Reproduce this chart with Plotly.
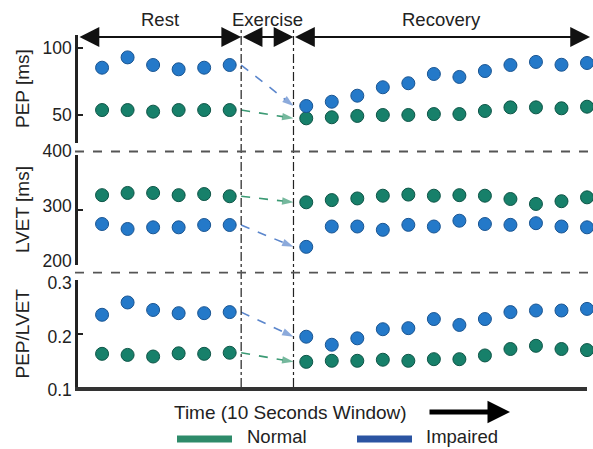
import plotly.graph_objects as go

# ---------------- data ----------------
rest_idx = [0, 1, 2, 3, 4, 5]
recovery_idx = [8, 9, 10, 11, 12, 13, 14, 15, 16, 17, 18, 19]
time_idx = rest_idx + recovery_idx

pep_normal = [53.7, 53.7, 52.5, 53.7, 53.7, 53.7,
              47.5, 48.3, 49.3, 50.0, 50.0, 50.7, 50.7, 53.0, 55.7, 55.7, 55.0, 56.2]
pep_impaired = [85.3, 93.0, 87.3, 84.1, 85.3, 87.3,
                56.7, 59.9, 64.4, 70.7, 73.7, 80.6, 78.4, 82.8, 87.3, 89.6, 87.5, 88.8]
lvet_normal = [327, 331, 331, 327, 329, 325,
               314, 318, 321, 326, 328, 326, 327, 326, 320, 311, 316, 323]
lvet_impaired = [274.5, 265.5, 268.5, 268.5, 272.7, 272.7,
                 233, 270, 270, 264, 273, 270, 280.5, 274.5, 273, 276, 270, 268.5]
ratio_normal = [0.162, 0.160, 0.157, 0.163, 0.162, 0.164,
                0.147, 0.149, 0.149, 0.151, 0.149, 0.152, 0.152, 0.159, 0.171, 0.177, 0.171, 0.169]
ratio_impaired = [0.235, 0.258, 0.244, 0.238, 0.238, 0.240,
                  0.194, 0.179, 0.191, 0.208, 0.210, 0.227, 0.216, 0.227, 0.240, 0.243, 0.243, 0.246]

phase_names = ["Rest", "Exercise", "Recovery"]
phase_edges = [-0.943, 5.45, 7.5, 19.12]

panel_titles = ["PEP [ms]", "LVET [ms]", "PEP/LVET"]
panel_ranges = [[29.1, 109.7], [200, 400], [0.1, 0.3]]
panel_ticks = [[50, 100], [200, 300, 400], [0.1, 0.2, 0.3]]
panel_ticktext = [["50", "100"], ["200", "300", "400"], ["0.1", "0.2", "0.3"]]

legend_names = ["Normal", "Impaired"]
x_label = "Time (10 Seconds Window)"

# ---------------- style ----------------
W, H = 593, 449
FONT = "Liberation Sans, Arial, Helvetica, sans-serif"
TXT = "#222222"
GREEN, GREEN_EDGE = "#17806a", "#0e5547"
BLUE, BLUE_EDGE = "#2479c9", "#1a5592"
GREEN_ARROW, BLUE_ARROW = "#3b9a74", "#5b86cc"
GREEN_LEG, BLUE_LEG = "#2e8b6a", "#2b54a2"

X_DOM = [78 / W, 587 / W]
X_RANGE = [-0.943, 19.0]
def px_y(p):
    return 1 - p / H
Y_DOMS = [[px_y(143), px_y(35)], [px_y(265), px_y(155)], [px_y(387), px_y(280)]]
TICK_SHIFT = [0, -4, 3]   # pixel shift of tick labels (negative = up)

def idx_to_paper(i):
    return X_DOM[0] + (i - X_RANGE[0]) / (X_RANGE[1] - X_RANGE[0]) * (X_DOM[1] - X_DOM[0])

fig = go.Figure()

series = [(pep_normal, pep_impaired), (lvet_normal, lvet_impaired), (ratio_normal, ratio_impaired)]
yaxes = ["y", "y2", "y3"]
for k, (norm, imp) in enumerate(series):
    ya = yaxes[k]
    n_rest = len(rest_idx)
    # dashed transition arrows (from last rest value to first recovery value)
    for vals, col in ((imp, BLUE_ARROW), (norm, GREEN_ARROW)):
        fig.add_trace(go.Scatter(
            x=[phase_edges[1], phase_edges[2]], y=[vals[n_rest - 1], vals[n_rest]],
            xaxis="x", yaxis=ya, mode="lines+markers", showlegend=False, hoverinfo="skip",
            line=dict(color=col, width=1.6, dash="dash"),
            marker=dict(symbol=["circle", "arrow"], size=[0, 12], color=col, angleref="previous",
                        line=dict(width=0)),
            cliponaxis=False))
    for vals, col, edge, name in ((norm, GREEN, GREEN_EDGE, legend_names[0]),
                                  (imp, BLUE, BLUE_EDGE, legend_names[1])):
        fig.add_trace(go.Scatter(
            x=time_idx, y=vals, xaxis="x", yaxis=ya, mode="markers", name=name,
            showlegend=False, cliponaxis=False,
            marker=dict(size=13, color=col, line=dict(color=edge, width=1))))

layout = dict(
    width=W, height=H, autosize=False, margin=dict(l=0, r=0, t=0, b=0, pad=0, autoexpand=False),
    paper_bgcolor="white", plot_bgcolor="white", showlegend=False,
    font=dict(family=FONT, size=18, color=TXT),
    xaxis=dict(domain=X_DOM, range=X_RANGE, anchor="y3", showline=True, linecolor="#333333",
               linewidth=3.5, showticklabels=False, ticks="", showgrid=False, zeroline=False,
               automargin=False),
)
for k in range(3):
    key = "yaxis" if k == 0 else f"yaxis{k+1}"
    layout[key] = dict(domain=Y_DOMS[k], range=panel_ranges[k], anchor="x",
                       showline=True, linecolor="#222222", linewidth=2.5,
                       ticks="inside", ticklen=5, tickwidth=2, tickcolor="#222222",
                       tickvals=panel_ticks[k], ticktext=panel_ticktext[k],
                       tickfont=dict(size=17.5, family=FONT, color=TXT),
                       ticklabelshift=TICK_SHIFT[k],
                       showgrid=False, zeroline=False, automargin=False)
fig.update_layout(**layout)

shapes = []
# dash-dot phase boundaries
for e in phase_edges[1:3]:
    shapes.append(dict(type="line", xref="x", yref="paper", x0=e, x1=e,
                       y0=px_y(387), y1=px_y(30), line=dict(color="#222222", width=1.2, dash="dashdot")))
# dashed panel separators
for p in (151.5, 272.7):
    shapes.append(dict(type="line", xref="paper", yref="paper", x0=75 / W, x1=1,
                       y0=px_y(p), y1=px_y(p), line=dict(color="#555555", width=1.8, dash="dash")))
# legend lines
for (x0, x1), col in (((177, 232), GREEN_LEG), ((357, 412), BLUE_LEG)):
    shapes.append(dict(type="line", xref="paper", yref="paper", x0=x0 / W, x1=x1 / W,
                       y0=px_y(439), y1=px_y(439), line=dict(color=col, width=7)))
fig.update_layout(shapes=shapes)

ann = []
# phase double arrows and labels
for i, name in enumerate(phase_names):
    a, b = idx_to_paper(phase_edges[i]), idx_to_paper(phase_edges[i + 1])
    ann.append(dict(xref="paper", yref="paper", x=b, y=px_y(37), ax=-(b - a) * W, ay=0,
                    axref="pixel", ayref="pixel", text="", showarrow=True,
                    arrowside="end+start", arrowhead=2, startarrowhead=2,
                    arrowsize=2.2, startarrowsize=2.2, arrowwidth=1.8, arrowcolor="#111111"))
    ann.append(dict(xref="paper", yref="paper", x=(a + b) / 2, y=px_y(20), text=name,
                    showarrow=False, font=dict(size=18.5), xanchor="center", yanchor="middle"))
# panel titles
for k, t in enumerate(panel_titles):
    ann.append(dict(xref="paper", yref=f"{yaxes[k]} domain", x=22 / W, y=0.5, text=t,
                    textangle=-90, showarrow=False, font=dict(size=19),
                    xanchor="center", yanchor="middle"))
# time label and arrow
ann.append(dict(xref="paper", yref="paper", x=290 / W, y=px_y(412), text=x_label,
                showarrow=False, font=dict(size=19), xanchor="center", yanchor="middle"))
ann.append(dict(xref="paper", yref="paper", x=510 / W, y=px_y(412), ax=-82, ay=0,
                axref="pixel", ayref="pixel", text="", showarrow=True, arrowhead=2,
                arrowsize=0.9, arrowwidth=5, arrowcolor="#000000"))
# legend text
for xl, name in ((245, legend_names[0]), (424, legend_names[1])):
    ann.append(dict(xref="paper", yref="paper", x=xl / W, y=0, text=name,
                    showarrow=False, font=dict(size=18.5), xanchor="left", yanchor="bottom"))
fig.update_layout(annotations=ann)

fig.write_html("out.html")
